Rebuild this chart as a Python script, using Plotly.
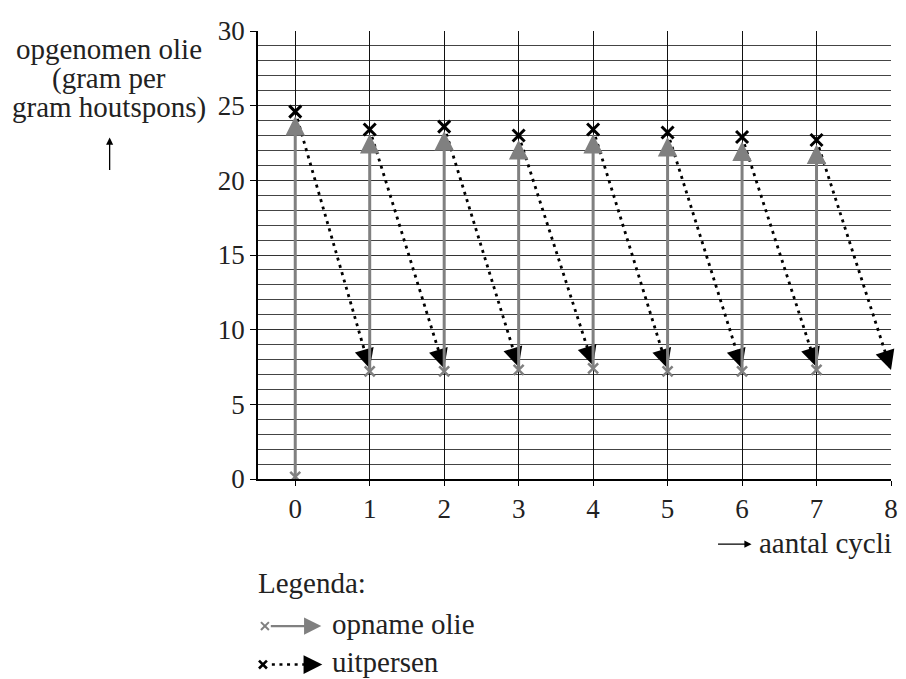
import plotly.graph_objects as go

# ---- data ----
cycles = [0, 1, 2, 3, 4, 5, 6, 7]
uptake_start = [0.15, 7.2, 7.2, 7.3, 7.4, 7.2, 7.2, 7.3]      # grey x (start of oil uptake)
pressed_top = [24.6, 23.4, 23.6, 23.0, 23.4, 23.2, 22.9, 22.7]  # black x (start of pressing)
pressed_end = [7.4, 7.4, 7.5, 7.6, 7.4, 7.4, 7.5, 7.3]          # arrow tip at next cycle
y_ticks = [0, 5, 10, 15, 20, 25, 30]
x_ticks = [0, 1, 2, 3, 4, 5, 6, 7, 8]

GREY = "#808080"
TXT = "#222"
FONT = "Liberation Serif"
FS = 29      # text size
TFS = 27     # tick label size

OFF = 8  # page body margin
FIG_W, FIG_H = 906 - OFF, 679 - OFF

fig = go.Figure()
annotations = []

DOT = "3px,4.6px"

# dotted pressing lines
for i, c in enumerate(cycles):
    fig.add_trace(go.Scatter(
        x=[c, c + 1], y=[pressed_top[i], pressed_end[i]], mode="lines",
        line=dict(color="black", width=2.8, dash=DOT), showlegend=False, hoverinfo="skip"))
    f = 0.05
    annotations.append(dict(
        x=c + 1, y=pressed_end[i], xref="x", yref="y",
        ax=(c + 1) - f * 1.0, ay=pressed_end[i] + f * (pressed_top[i] - pressed_end[i]),
        axref="x", ayref="y", showarrow=True, arrowhead=2, arrowsize=2.6,
        arrowwidth=1.5, arrowcolor="black", text="", standoff=0))

# grey uptake arrows
for i, c in enumerate(cycles):
    annotations.append(dict(
        x=c, y=pressed_top[i] - 0.3, xref="x", yref="y",
        ax=c, ay=uptake_start[i], axref="x", ayref="y",
        showarrow=True, arrowhead=2, arrowsize=1.3, arrowwidth=3,
        arrowcolor=GREY, text="", standoff=0))

# markers
fig.add_trace(go.Scatter(
    x=cycles, y=uptake_start, mode="markers",
    marker=dict(symbol="x-thin", size=10, line=dict(color=GREY, width=2.5)),
    showlegend=False, hoverinfo="skip"))
fig.add_trace(go.Scatter(
    x=cycles, y=pressed_top, mode="markers",
    marker=dict(symbol="x-thin", size=12, line=dict(color="black", width=3)),
    showlegend=False, hoverinfo="skip"))

# ---- helpers for paper coords (given in page pixels) ----
L, R, T, B = 258, 898, 25, 479
W, H = R - L, B - T
def px(x):
    return (x - L) / W
def py(y):
    return (B - y) / H

def text(xp, yp, s, anchor="left"):
    annotations.append(dict(
        x=px(xp), y=py(yp), xref="paper", yref="paper", xanchor=anchor, yanchor="middle",
        text=s, showarrow=False, font=dict(family=FONT, size=FS, color=TXT)))

# y-axis title
text(107, 43, "opgenomen olie", "center")
text(107, 73, "(gram per", "center")
text(107, 103, "gram houtspons)", "center")
annotations.append(dict(
    x=px(108), y=py(133), xref="paper", yref="paper", ax=0, ay=34,
    showarrow=True, arrowhead=2, arrowsize=1.1, arrowwidth=1.3, arrowcolor="black", text=""))

# x-axis title
annotations.append(dict(
    x=px(757), y=py(545), xref="paper", yref="paper", ax=-35, ay=0,
    showarrow=True, arrowhead=2, arrowsize=1.1, arrowwidth=1.3, arrowcolor="black", text=""))
text(901, 544, "aantal cycli", "right")

# legend
text(256, 584, "Legenda:")
text(331, 626, "opname olie")
text(331, 664, "uitpersen")
annotations.append(dict(
    x=px(322), y=py(628), xref="paper", yref="paper", ax=-52, ay=0,
    showarrow=True, arrowhead=2, arrowsize=1.5, arrowwidth=2.3, arrowcolor=GREY, text=""))
annotations.append(dict(
    x=px(323), y=py(667), xref="paper", yref="paper", ax=-12, ay=0,
    showarrow=True, arrowhead=2, arrowsize=2.5, arrowwidth=1.5, arrowcolor="black", text=""))

shapes = []
shapes.append(dict(type="line", xref="paper", yref="paper",
                   x0=px(272), x1=px(310), y0=py(667), y1=py(667),
                   line=dict(color="black", width=2.6, dash=DOT)))
def xmark(cx, cy, color, w, s=4):
    return [dict(type="line", xref="paper", yref="paper", x0=px(cx - s), x1=px(cx + s),
                 y0=py(cy - s), y1=py(cy + s), line=dict(color=color, width=w)),
            dict(type="line", xref="paper", yref="paper", x0=px(cx - s), x1=px(cx + s),
                 y0=py(cy + s), y1=py(cy - s), line=dict(color=color, width=w))]
shapes += xmark(265, 628, GREY, 2)
shapes += xmark(263, 667, "black", 2.6)

fig.update_layout(
    width=FIG_W, height=FIG_H,
    margin=dict(l=L - OFF, r=FIG_W - (R - OFF), t=T - OFF, b=FIG_H - (B - OFF)),
    paper_bgcolor="white", plot_bgcolor="white",
    font=dict(family=FONT, size=TFS, color=TXT),
    annotations=annotations, shapes=shapes,
    xaxis=dict(range=[-0.5, 8], tickvals=x_ticks, ticktext=[str(v) for v in x_ticks],
               showgrid=True, gridcolor="#111", gridwidth=1, zeroline=False,
               showline=True, linecolor="black", linewidth=1.5,
               ticks="outside", ticklen=5, tickcolor="black", fixedrange=True,
               tickfont=dict(family=FONT, size=TFS, color=TXT)),
    yaxis=dict(range=[0, 30], tickvals=y_ticks, ticktext=[str(v) for v in y_ticks],
               showgrid=True, gridcolor="#333", gridwidth=1, zeroline=False,
               showline=True, linecolor="black", linewidth=1.5,
               ticks="outside", ticklen=6, tickcolor="black",
               minor=dict(dtick=1, tick0=0, showgrid=True, gridcolor="#444", gridwidth=1),
               fixedrange=True, tickfont=dict(family=FONT, size=TFS, color=TXT)),
)

fig.write_html("out.html")
